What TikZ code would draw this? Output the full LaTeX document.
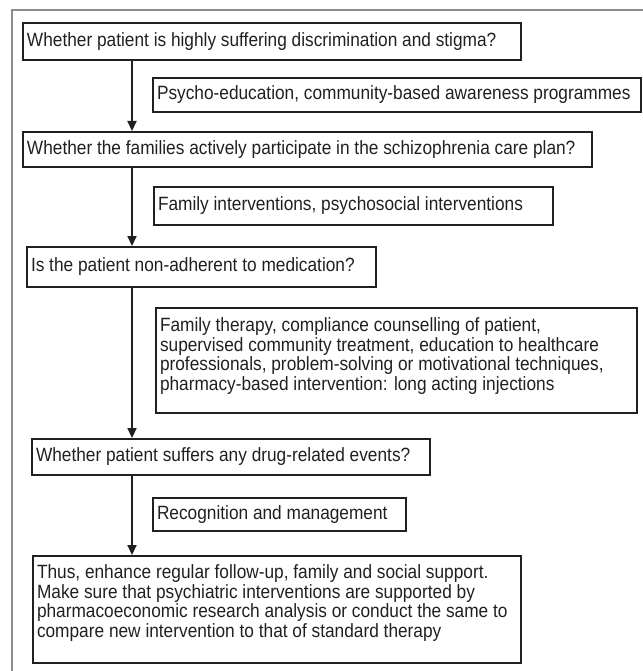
\documentclass[tikz,border=0pt]{standalone}
\usepackage{fontspec}
\setmainfont{Liberation Sans}[FakeStretch=0.9]
\usetikzlibrary{arrows.meta}
\definecolor{boxc}{HTML}{231F20}
\definecolor{txtc}{HTML}{231F20}
\definecolor{framec}{HTML}{8C8C8C}
\newcommand\bxt[4]{\parbox[c][#2pt][#3]{#1pt}{\raggedright\fontsize{19.2}{19.4}\selectfont #4}}
\begin{document}
\begin{tikzpicture}[x=1pt,y=-1pt,
  box/.style={draw=boxc, line width=2pt, inner xsep=4pt, inner ysep=0pt, anchor=north west, text=txtc},
  arr/.style={draw=boxc, line width=2.2pt, -{Triangle[length=10pt,width=9pt]}}]
\useasboundingbox (0,0) rectangle (642,671);
\draw[framec, line width=1.5pt] (12,700) -- (12,10) -- (700,10);
% questions
\node[box] (q1) at (22,22) {\bxt{490}{37}{c}{Whether patient is highly suffering discrimination and stigma?}};
\node[box] (q2) at (22,131) {\bxt{561}{35}{c}{Whether the families actively participate in the schizophrenia care plan?}};
\node[box] (q3) at (26,246) {\bxt{341}{40}{c}{Is the patient non-adherent to medication?}};
\node[box] (q4) at (31,438) {\bxt{390}{36}{c}{Whether patient suffers any drug-related events?}};
\node[box] (q5) at (32,555) {\bxt{480}{107}{t}{\vspace*{9pt}Thus, enhance regular follow-up, family and social support.\\ Make sure that psychiatric interventions are supported by\\ pharmacoeconomic research analysis or conduct the same to\\ compare new intervention to that of standard therapy}};
% interventions
\node[box] (a1) at (152,77) {\bxt{480}{34}{c}{Psycho-education, community-based awareness programmes}};
\node[box] (a2) at (153,186) {\bxt{391}{38}{c}{Family interventions, psychosocial interventions}};
\node[box] (a3) at (155,307) {\bxt{473}{105}{t}{\vspace*{10pt}Family therapy, compliance counselling of patient,\\ supervised community treatment, education to healthcare\\ professionals, problem-solving or motivational techniques,\\ pharmacy-based intervention: long acting injections}};
\node[box] (a4) at (152,497) {\bxt{245}{33}{c}{Recognition and management}};
% arrows
\coordinate (ax) at (132,0);
\draw[arr] (q1.south -| ax) -- (q2.north -| ax);
\draw[arr] (q2.south -| ax) -- (q3.north -| ax);
\draw[arr] (q3.south -| ax) -- (q4.north -| ax);
\draw[arr] (q4.south -| ax) -- (q5.north -| ax);
\end{tikzpicture}
\end{document}
